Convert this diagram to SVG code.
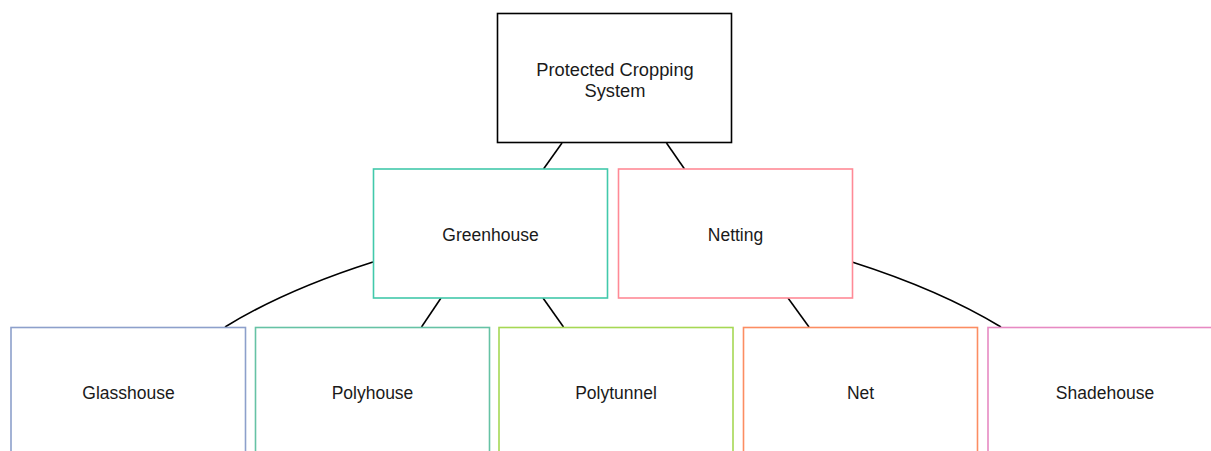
<svg xmlns="http://www.w3.org/2000/svg" width="1211" height="451" viewBox="0 0 1211 451">
<style>
  .box { fill: #ffffff; stroke-width: 1.6; }
  .lbl { font-family: "Liberation Sans", Arial, sans-serif; font-size: 17.5px; fill: #1a1a1a; text-anchor: middle; }
  .root { font-size: 18.3px; }
  .link { fill: none; stroke: #000000; stroke-width: 1.6; }
</style>
<rect width="1211" height="451" fill="#ffffff"/>
<g id="connectors">
  <line class="link" x1="562" y1="143" x2="543.5" y2="169"/>
  <line class="link" x1="666.5" y1="143" x2="684.5" y2="169"/>
  <path class="link" d="M373,262 Q285,290 225,327"/>
  <line class="link" x1="441" y1="298" x2="421.5" y2="327"/>
  <line class="link" x1="543" y1="298" x2="563.5" y2="327"/>
  <line class="link" x1="788" y1="298" x2="809" y2="327"/>
  <path class="link" d="M852,262 Q940,290 1001,327"/>
</g>
<g id="node-root">
  <rect class="box" x="497.5" y="13.5" width="234" height="129" stroke="#000000"/>
  <text class="lbl root" x="615" y="76">Protected Cropping</text>
  <text class="lbl root" x="615" y="96.5">System</text>
</g>
<g id="node-greenhouse">
  <rect class="box" x="373.5" y="169" width="234" height="129" stroke="#42c9ab"/>
  <text class="lbl" x="490.5" y="240.5">Greenhouse</text>
</g>
<g id="node-netting">
  <rect class="box" x="618.5" y="169" width="234" height="129" stroke="#ff8a96"/>
  <text class="lbl" x="735.5" y="240.5">Netting</text>
</g>
<g id="node-glasshouse">
  <rect class="box" x="11" y="327.5" width="234.5" height="140" stroke="#8da0cb"/>
  <text class="lbl" x="128.5" y="398.5">Glasshouse</text>
</g>
<g id="node-polyhouse">
  <rect class="box" x="255.5" y="327.5" width="234" height="140" stroke="#66c2a5"/>
  <text class="lbl" x="372.5" y="398.5">Polyhouse</text>
</g>
<g id="node-polytunnel">
  <rect class="box" x="499" y="327.5" width="234" height="140" stroke="#a6d854"/>
  <text class="lbl" x="616" y="398.5">Polytunnel</text>
</g>
<g id="node-net">
  <rect class="box" x="743.5" y="327.5" width="234" height="140" stroke="#fc8d62"/>
  <text class="lbl" x="860.5" y="398.5">Net</text>
</g>
<g id="node-shadehouse">
  <rect class="box" x="988" y="327.5" width="234" height="140" stroke="#e78ac3"/>
  <text class="lbl" x="1105" y="398.5">Shadehouse</text>
</g>
</svg>
